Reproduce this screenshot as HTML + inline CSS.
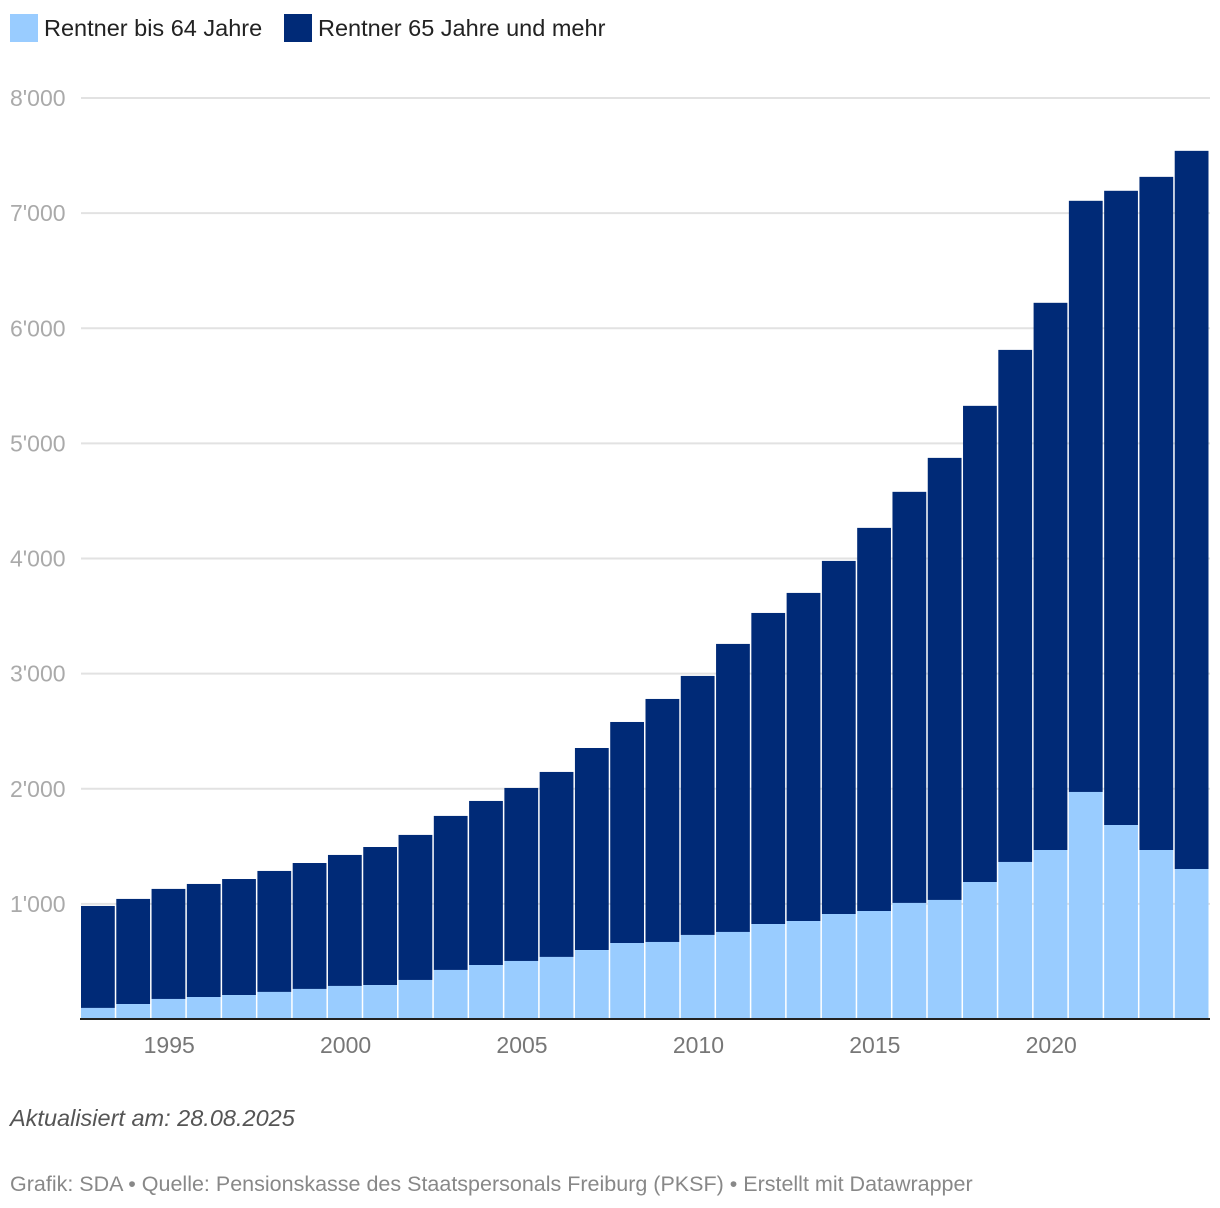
<!DOCTYPE html>
<html><head><meta charset="utf-8"><style>
body{margin:0;background:#fff;font-family:"Liberation Sans",sans-serif;width:1220px;height:1208px;position:relative;overflow:hidden}
.leg{position:absolute;top:14px;display:flex;align-items:center;font-size:23.5px;color:#222}
.sw{width:28px;height:28px;margin-right:6px}
</style></head><body>
<div class="leg" style="left:10px"><div class="sw" style="background:#99ccff"></div>Rentner bis 64 Jahre</div>
<div class="leg" style="left:284px"><div class="sw" style="background:#002a77"></div>Rentner 65 Jahre und mehr</div>
<svg id="chart" width="1220" height="1080" style="position:absolute;left:0;top:0"></svg>
<div style="position:absolute;left:10px;top:1105px;font-size:23.5px;font-style:italic;color:#555">Aktualisiert am: 28.08.2025</div>
<div style="position:absolute;left:10px;top:1172px;font-size:21.5px;color:#888">Grafik: SDA • Quelle: Pensionskasse des Staatspersonals Freiburg (PKSF) • Erstellt mit Datawrapper</div>
<script>
const years=[1993,1994,1995,1996,1997,1998,1999,2000,2001,2002,2003,2004,2005,2006,2007,2008,2009,2010,2011,2012,2013,2014,2015,2016,2017,2018,2019,2020,2021,2022,2023,2024];
const totals=[982,1043,1130,1173,1216,1286,1355,1425,1494,1599,1764,1894,2007,2146,2354,2580,2780,2980,3258,3527,3701,3979,4266,4579,4874,5326,5812,6221,7107,7194,7315,7541];
const under64=[96,130,174,191,208,235,261,287,295,339,426,469,504,539,599,660,669,730,756,825,851,912,938,1008,1034,1190,1364,1468,1972,1685,1468,1303];
const yTicks=[1000,2000,3000,4000,5000,6000,7000,8000];
const yTickLabels=["1'000","2'000","3'000","4'000","5'000","6'000","7'000","8'000"];
const xTicks=[1995,2000,2005,2010,2015,2020];
const svg=document.getElementById('chart');const NS='http://www.w3.org/2000/svg';
const X0=81,X1=1210,Y0=1019,Y8=98;
const bw=(X1-X0)/years.length;
const y=v=>Y0-(Y0-Y8)*v/8000;
const xc=yr=>X0+(yr-years[0]+0.5)*bw;
function mk(t,a){const e=document.createElementNS(NS,t);for(const k in a)e.setAttribute(k,a[k]);svg.appendChild(e);return e;}
yTicks.forEach((v,i)=>{
 const l=mk('line',{x1:X0,x2:X1,y1:y(v),y2:y(v),stroke:'#e2e2e2','stroke-width':2});
 
 
 const t=mk('text',{x:10,y:y(v)+8,'font-size':23,fill:'#aaa','font-family':'Liberation Sans'});
 t.textContent=yTickLabels[i];
 
 
});
years.forEach((yr,i)=>{
 const x=X0+i*bw;
 const a=mk('rect',{x:x,y:y(totals[i]),width:bw-1.5,height:y(under64[i])-y(totals[i]),fill:'#002a77'});
 
 
 const b=mk('rect',{x:x,y:y(under64[i]),width:bw-1.5,height:Y0-y(under64[i]),fill:'#99ccff'});
 
 
});
const ax=mk('line',{x1:X0-1,x2:X1,y1:Y0,y2:Y0,stroke:'#222','stroke-width':2});


xTicks.forEach(yr=>{
 const t=mk('text',{x:xc(yr),y:1053,'font-size':23,fill:'#777','text-anchor':'middle','font-family':'Liberation Sans'});
 t.textContent=yr;
 
 
});
</script>
</body></html>
